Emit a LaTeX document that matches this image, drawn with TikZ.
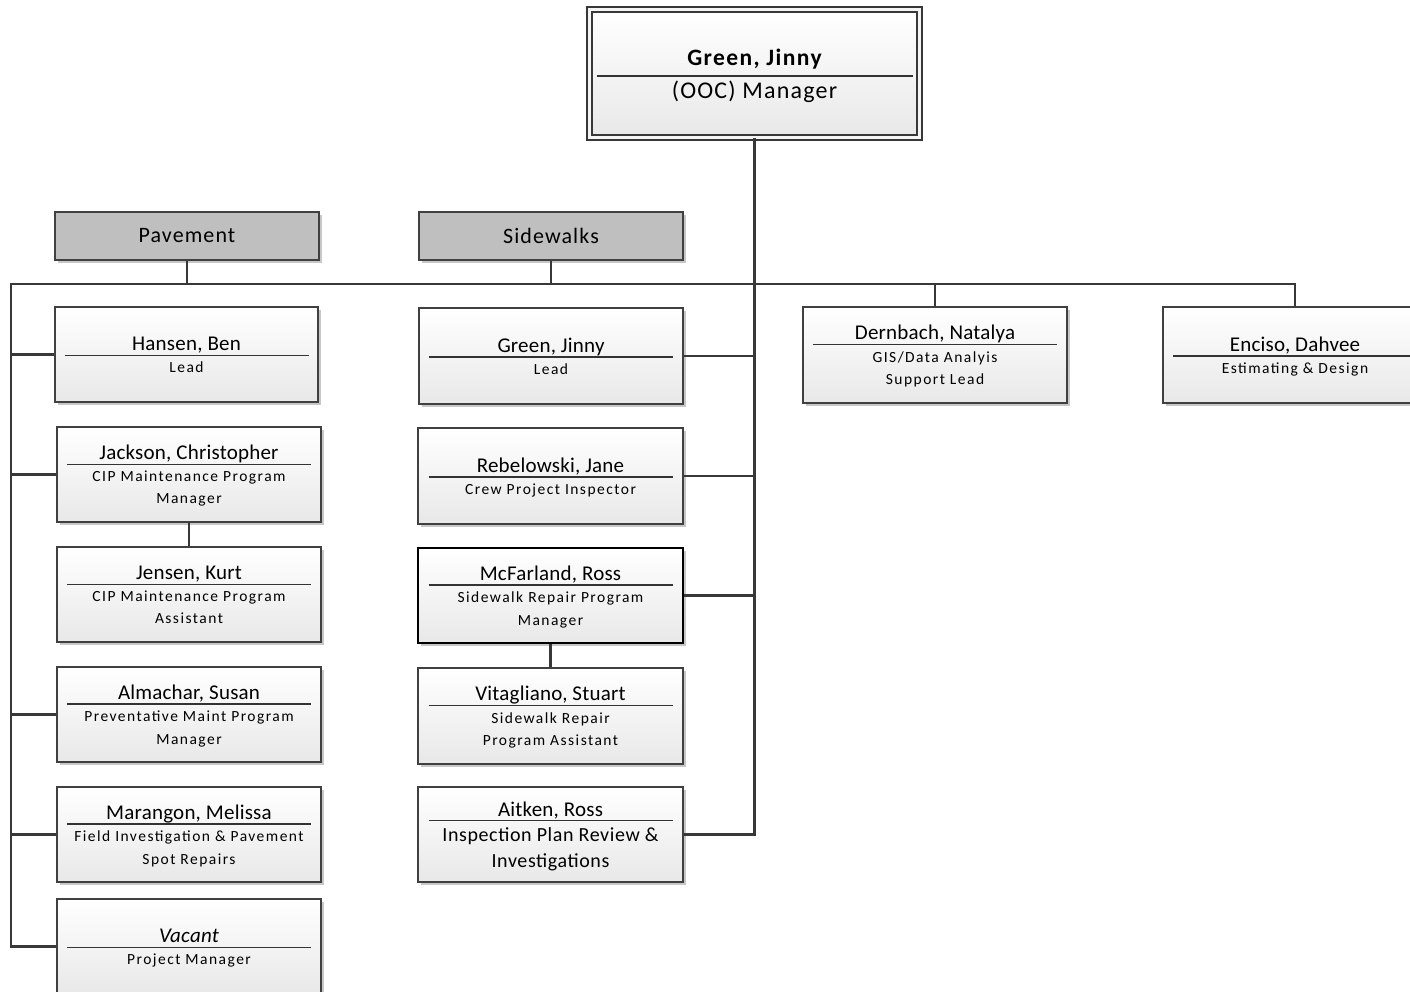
\documentclass[tikz,border=0pt]{standalone}
\usepackage{fontspec}
\setmainfont{Carlito}
\newfontfamily\subfont{Carlito}[LetterSpace=9.5]
\newfontfamily\namefont{Carlito}[LetterSpace=1]
\newfontfamily\hdrfont{Carlito}[LetterSpace=5]
\newfontfamily\bigsubfont{Carlito}[LetterSpace=3]
\newfontfamily\topnamefont{Carlito}[LetterSpace=6]
\newfontfamily\topsubfont{Carlito}[LetterSpace=5]
\usetikzlibrary{shadows}

\newcommand\cardtxt[2]{%
\begin{minipage}{244pt}\centering
{\namefont\fontsize{21}{24}\selectfont\raisebox{0pt}[14.5pt][4pt]{#1}}\par
{\color{black!80}\hrule height 1.3pt}\relax
\vspace{6pt}
{\subfont\fontsize{15.5}{22.5}\selectfont #2\par}\vspace{-\prevdepth}
\end{minipage}}
\newcommand\cardtxtbig[2]{%
\begin{minipage}{244pt}\centering
{\namefont\fontsize{21}{24}\selectfont\raisebox{0pt}[14.5pt][4pt]{#1}}\par
{\color{black!80}\hrule height 1.3pt}\relax
\vspace{6pt}
{\bigsubfont\fontsize{20}{26}\selectfont #2\par}\vspace{-\prevdepth}
\end{minipage}}

\tikzset{
  shadowed/.style={drop shadow={shadow xshift=3pt, shadow yshift=-3pt, fill=black, opacity=0.22}},
  card/.style={shadowed, draw=black!75, line width=1.6pt, top color=white, bottom color=black!9,
    minimum width=264pt, minimum height=95pt, inner sep=0pt},
  hdr/.style={shadowed, draw=black!75, line width=1.6pt, fill=black!25,
    minimum width=264pt, minimum height=48pt, inner sep=0pt, font=\hdrfont\fontsize{22}{24}\selectfont},
  conn/.style={draw=black!78, line width=2.4pt},
}

\begin{document}
\begin{tikzpicture}[x=1pt,y=-1pt]
\clip (0,0) rectangle (1410,992);
\fill[white] (0,0) rectangle (1410,992);

% top manager
\node[shadowed, draw=black!78, line width=2pt, double=white!96!black, double distance=3pt,
  top color=white, bottom color=black!9, minimum width=330pt, minimum height=128pt, inner sep=0pt]
  (top) at (754.5,73.5) {\begin{minipage}{316pt}\centering
  {\topnamefont\fontsize{23.5}{26}\selectfont\bfseries\raisebox{0pt}[21pt][10pt]{Green, Jinny}}\par
  {\color{black!80}\hrule height 1.5pt}\relax
  \vspace{4pt}
  {\topsubfont\fontsize{24}{28}\selectfont (OOC) Manager\par}
  \end{minipage}};

% headers
\node[hdr] (pav) at (187,236) {Pavement};
\node[hdr] (side) at (551,236) {Sidewalks};

% pavement column
\node[card, minimum width=263pt] (hansen) at (186.5,354.5) {\cardtxt{Hansen, Ben}{Lead}};
\node[card] (jackson) at (189,474.5) {\cardtxt{Jackson, Christopher}{CIP Maintenance Program\\Manager}};
\node[card] (jensen) at (189,594.5) {\cardtxt{Jensen, Kurt}{CIP Maintenance Program\\Assistant}};
\node[card] (almachar) at (189,714.5) {\cardtxt{Almachar, Susan}{Preventative Maint Program\\Manager}};
\node[card] (marangon) at (189,834.5) {\cardtxt{Marangon, Melissa}{Field Investigation \& Pavement\\Spot Repairs}};
\node[card] (vacant) at (189,946.5) {\cardtxt{\itshape Vacant}{Project Manager}};

% sidewalks column
\node[card, minimum height=96pt] (sgreen) at (551,356) {\cardtxt{Green, Jinny}{Lead}};
\node[card, minimum width=265pt, minimum height=96pt] (rebel) at (550.5,476) {\cardtxt{Rebelowski, Jane}{Crew Project Inspector}};
\node[card, minimum width=265pt, draw=black, line width=2pt] (mcf) at (550.5,595.5) {\cardtxt{McFarland, Ross}{Sidewalk Repair Program\\Manager}};
\node[card, minimum width=265pt, minimum height=96pt] (vita) at (550.5,716) {\cardtxt{Vitagliano, Stuart}{Sidewalk Repair\\Program Assistant}};
\node[card, minimum width=265pt] (aitken) at (550.5,834.5) {\cardtxtbig{Aitken, Ross}{Inspection Plan Review \&\\Investigations}};

% right column
\node[card, minimum height=96pt] (dern) at (935,355) {\cardtxt{Dernbach, Natalya}{GIS/Data Analyis\\Support Lead}};
\node[card, minimum height=96pt] (enciso) at (1295,355) {\cardtxt{Enciso, Dahvee}{Estimating \& Design}};

% connectors
\coordinate (busL) at (11,284);
\draw[conn] (vacant.west) -| (busL) -| (enciso.north);
\draw[conn] (aitken.east) -| (top.south);
\draw[conn] (pav.south) -- (pav.south |- busL);
\draw[conn] (side.south) -- (side.south |- busL);
\draw[conn] (dern.north) -- (dern.north |- busL);
\draw[conn] (hansen.west) -- (hansen.west -| busL);
\draw[conn] (jackson.west) -- (jackson.west -| busL);
\draw[conn] (almachar.west) -- (almachar.west -| busL);
\draw[conn] (marangon.west) -- (marangon.west -| busL);
\draw[conn] (jackson.south) -- (jensen.north);
\draw[conn] (sgreen.east) -- (sgreen.east -| top.south);
\draw[conn] (rebel.east) -- (rebel.east -| top.south);
\draw[conn] (mcf.east) -- (mcf.east -| top.south);
\draw[conn] (mcf.south) -- (vita.north);
\end{tikzpicture}
\end{document}
